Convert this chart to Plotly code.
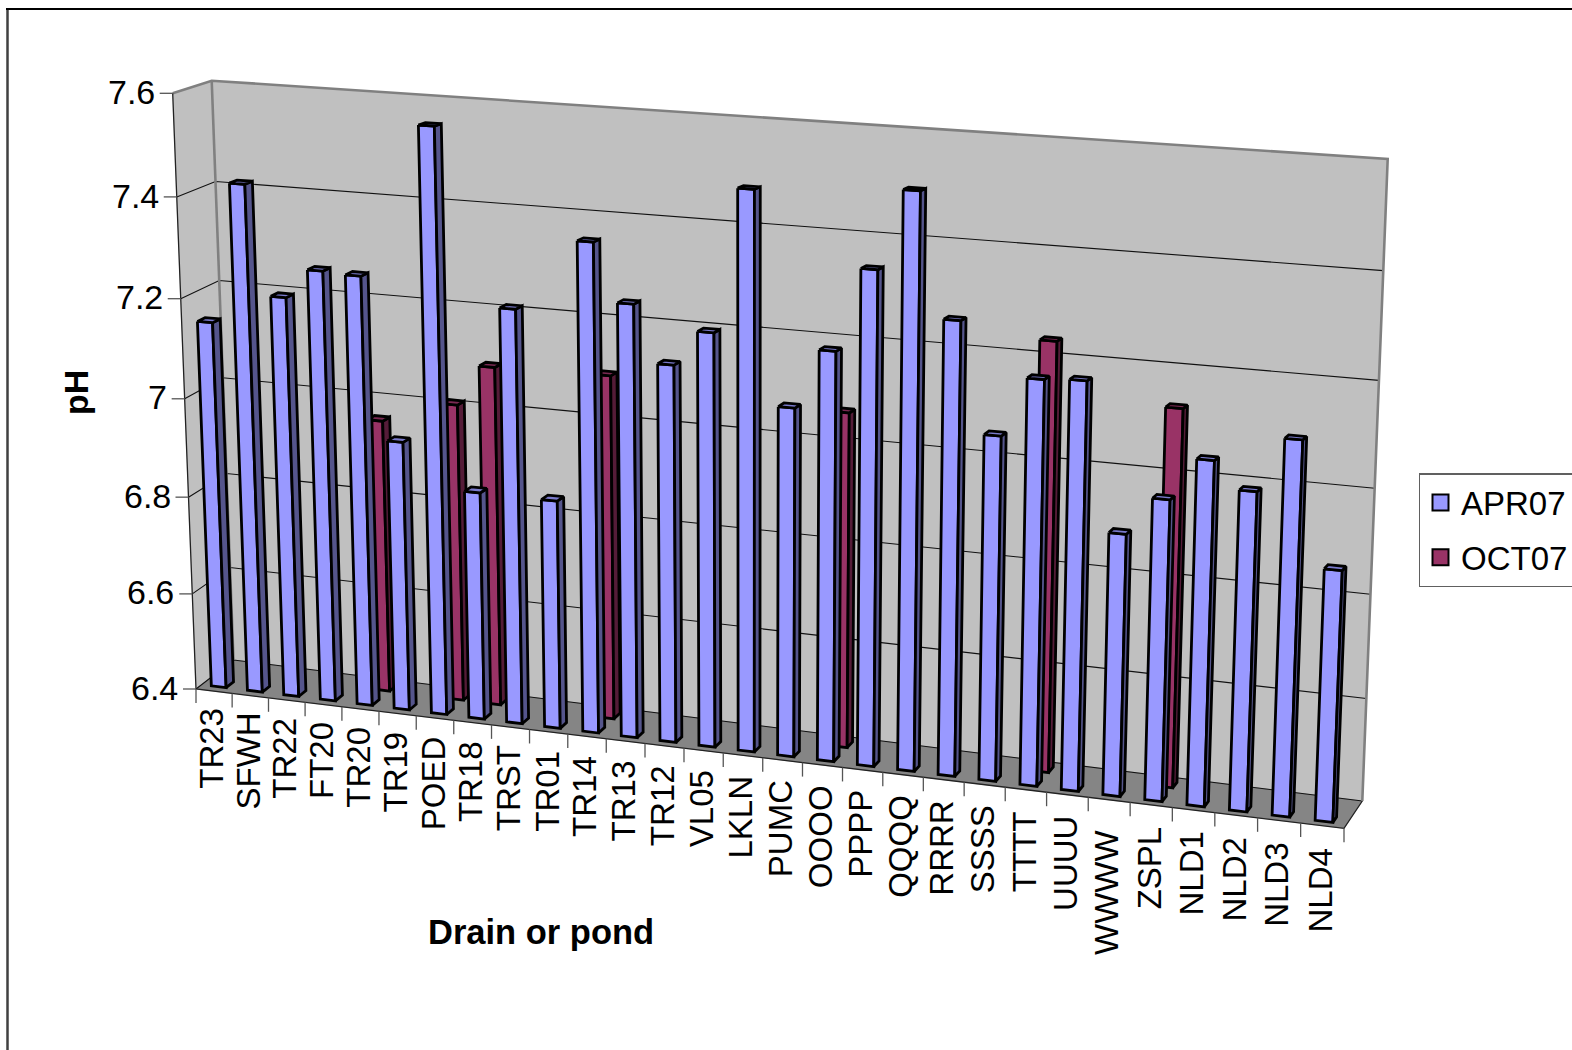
import plotly.graph_objects as go

# Drain and pond codes with their pH readings
sites = ["TR23", "SFWH", "TR22", "FT20", "TR20", "TR19", "POED", "TR18", "TRST", "TR01",
         "TR14", "TR13", "TR12", "VL05", "LKLN", "PUMC", "OOOO", "PPPP", "QQQQ", "RRRR",
         "SSSS", "TTTT", "UUUU", "WWWW", "ZSPL", "NLD1", "NLD2", "NLD3", "NLD4"]
apr07 = [7.151, 7.429, 7.213, 7.271, 7.267, 6.946, 7.565, 6.86, 7.227, 6.859,
         7.367, 7.255, 7.145, 7.213, 7.487, 7.083, 7.197, 7.355, 7.505, 7.273,
         7.065, 7.177, 7.181, 6.903, 6.975, 7.055, 7.005, 7.107, 6.875]
oct07_sites = ["TR20", "POED", "TR18", "TR14", "OOOO", "TTTT", "ZSPL"]
oct07 = [6.96, 7.007, 7.089, 7.093, 7.063, 7.233, 7.128]
ph_ticks = [6.4, 6.6, 6.8, 7.0, 7.2, 7.4, 7.6]
ph_tick_labels = ["6.4", "6.6", "6.8", "7", "7.2", "7.4", "7.6"]

PH_MIN, PH_MAX = ph_ticks[0], ph_ticks[-1]
N = len(sites)

# Corners of the 3-D box on the page, keyed by (category, value, depth)
BOX = {
    (0, 0, 0): (196.0, 689.0), (1, 0, 0): (1344.0, 828.3),
    (0, 1, 0): (172.7, 93.3), (1, 1, 0): (1369.0, 168.0),
    (0, 0, 1): (233.5, 660.0), (1, 0, 1): (1362.3, 801.0),
    (0, 1, 1): (211.7, 80.7), (1, 1, 1): (1387.7, 159.0),
}
FORESHORTEN_U = 0.91
FORESHORTEN_V = 0.95
APR_DEPTH = (0.15, 0.35)
OCT_DEPTH = (0.65, 0.85)
BAR_OFFSET = 0.27
BAR_WIDTH = 0.41

APR_COL = ("#9999FF", "#55558C", "#7A7ACC")
OCT_COL = ("#993366", "#551C38", "#7A2952")
WALL = "#C0C0C0"
FLOOR = "#858585"
EDGE = "#808080"


def warp(t, a):
    return a * t / (1 - (1 - a) * t)


def project(cat, ph, depth):
    """Map category position, pH and depth in the box to page coordinates."""
    u = warp(cat / N, FORESHORTEN_U)
    v = warp((ph - PH_MIN) / (PH_MAX - PH_MIN), FORESHORTEN_V)
    x = y = 0.0
    for i in (0, 1):
        for j in (0, 1):
            for k in (0, 1):
                w = (u if i else 1 - u) * (v if j else 1 - v) * (depth if k else 1 - depth)
                x += w * BOX[(i, j, k)][0]
                y += w * BOX[(i, j, k)][1]
    return x, y


fig = go.Figure()


def poly(points, fill=None, line="#000000", width=1.0, closed=True):
    xs = [p[0] for p in points]
    ys = [p[1] for p in points]
    if closed:
        xs.append(xs[0])
        ys.append(ys[0])
    fig.add_trace(go.Scatter(
        x=xs, y=ys, mode="lines", showlegend=False, hoverinfo="skip",
        fill="toself" if fill else "none", fillcolor=fill,
        line=dict(color=line, width=width, simplify=False),
    ))


def add_bar(cat, ph, depth, colours):
    left = cat + BAR_OFFSET
    right = left + BAR_WIDTH
    d0, d1 = depth
    poly([project(left, ph, d0), project(right, ph, d0), project(right, PH_MIN, d0),
          project(left, PH_MIN, d0)], colours[0], "#000000", 2.8)
    poly([project(right, ph, d0), project(right, ph, d1), project(right, PH_MIN, d1),
          project(right, PH_MIN, d0)], colours[1], "#000000", 2.8)
    poly([project(left, ph, d0), project(left, ph, d1), project(right, ph, d1),
          project(right, ph, d0)], colours[2], "#000000", 2.8)


# Outer chart frame, running off the page on the right and at the bottom
poly([(7.5, 1060), (7.5, 9)], None, "#404040", 2.5, closed=False)
poly([(6, 9), (1580, 9)], None, "#000000", 2, closed=False)

# Walls and floor
poly([project(0, PH_MIN, 0), project(0, PH_MAX, 0), project(0, PH_MAX, 1), project(0, PH_MIN, 1)],
     WALL, WALL, 0.5)
poly([project(0, PH_MIN, 1), project(0, PH_MAX, 1), project(N, PH_MAX, 1), project(N, PH_MIN, 1)],
     WALL, WALL, 0.5)
poly([project(0, PH_MIN, 0), project(N, PH_MIN, 0), project(N, PH_MIN, 1), project(0, PH_MIN, 1)],
     FLOOR, FLOOR, 0.5)

# Gridlines run across the left wall and along the back wall
for ph in ph_ticks[:-1]:
    poly([project(0, ph, 0), project(0, ph, 1), project(N, ph, 1)], None, "#111111", 1.1, closed=False)

poly([project(0, PH_MAX, 0), project(0, PH_MAX, 1), project(N, PH_MAX, 1), project(N, PH_MIN, 1)],
     None, EDGE, 2.6, closed=False)
poly([project(0, PH_MAX, 1), project(0, PH_MIN, 1)], None, EDGE, 2.6, closed=False)
poly([project(0, PH_MAX, 0), project(0, PH_MIN, 0), project(N, PH_MIN, 0), project(N, PH_MIN, 1)],
     None, "#222222", 1.3, closed=False)

# Value ticks and labels on the front-left edge
for ph, label in zip(ph_ticks, ph_tick_labels):
    x, y = project(0, ph, 0)
    poly([(x - 13, y), (x, y)], None, "#555555", 1.3, closed=False)
    fig.add_annotation(x=x - 17, y=y - 1.4, text=label, showarrow=False, xanchor="right", yanchor="middle",
                       font=dict(family="Liberation Sans", size=34, color="#000000"), borderpad=0)

# Category ticks and rotated labels under the front edge
for i in range(N + 1):
    x, y = project(i, PH_MIN, 0)
    poly([(x, y), (x, y + 14)], None, "#555555", 1.3, closed=False)
for i, site in enumerate(sites):
    x, y = project(i + 0.5, PH_MIN, 0)
    drop = 16 + 5.5 * i / (N - 1) + (9 if site == "WWWW" else 0)
    fig.add_annotation(x=x - 2, y=y + drop, text=site, showarrow=False, xanchor="center", yanchor="top",
                       textangle=-90, font=dict(family="Liberation Sans", size=33, color="#000000"),
                       borderpad=0)

# October columns stand behind the April row
oct_lookup = dict(zip(oct07_sites, oct07))
for i, site in enumerate(sites):
    if site in oct_lookup:
        add_bar(i, oct_lookup[site], OCT_DEPTH, OCT_COL)
for i, value in enumerate(apr07):
    add_bar(i, value, APR_DEPTH, APR_COL)

# Legend entries
for idx, (name, colours) in enumerate((("APR07", APR_COL), ("OCT07", OCT_COL))):
    fig.add_trace(go.Scatter(
        x=[None], y=[None], mode="markers", name=name, legendgroup=name,
        marker=dict(symbol="square", size=18, color=colours[0], line=dict(color="#000000", width=2)),
    ))

fig.add_annotation(x=540.5, y=932, text="<b>Drain or pond</b>", showarrow=False,
                   font=dict(family="Liberation Sans", size=34.5, color="#000000"), borderpad=0)
fig.add_annotation(x=76, y=393, text="<b>pH</b>", showarrow=False, textangle=-90,
                   font=dict(family="Liberation Sans", size=34, color="#000000"), borderpad=0)

fig.update_layout(
    width=1572, height=1050, margin=dict(l=0, r=0, t=0, b=0, autoexpand=False),
    paper_bgcolor="#FFFFFF", plot_bgcolor="#FFFFFF",
    xaxis=dict(range=[0, 1572], visible=False, fixedrange=True),
    yaxis=dict(range=[1050, 0], visible=False, fixedrange=True),
    font=dict(family="Liberation Sans", color="#000000"),
    showlegend=True,
    legend=dict(
        x=1418.5 / 1572, y=1 - 473 / 1050, xanchor="left", yanchor="top",
        bgcolor="#FFFFFF", bordercolor="#606060", borderwidth=1.5,
        font=dict(family="Liberation Sans", size=33, color="#000000"),
        itemwidth=31, tracegroupgap=9,
    ),
)

fig.write_html("out.html")
